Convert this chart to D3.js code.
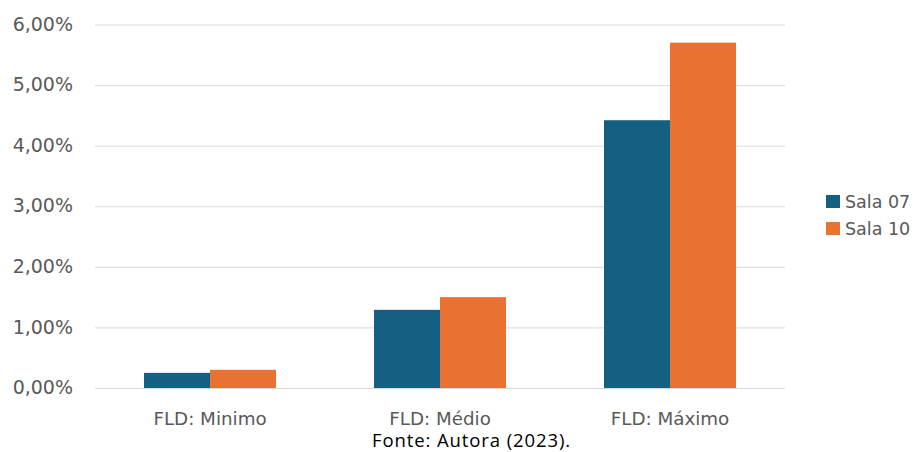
<!DOCTYPE html>
<html><head><meta charset="utf-8">
<script src="https://cdn.jsdelivr.net/npm/d3@7"></script>
<style>body{margin:0;background:#fff}svg{display:block}</style>
</head><body>
<script>
const categories = ["FLD: Minimo", "FLD: Médio", "FLD: Máximo"];
const seriesNames = ["Sala 07", "Sala 10"];
const sala07 = [0.0025, 0.0129, 0.0442];
const sala10 = [0.0030, 0.0150, 0.0570];
const yTicks = [0, 0.01, 0.02, 0.03, 0.04, 0.05, 0.06];
const colors = ["#156082", "#E97132"];
const caption = "Fonte: Autora (2023).";

const W = 914, H = 452;
const FONT = "'DejaVu Sans', sans-serif";
const svg = d3.select("body").append("svg").attr("width", W).attr("height", H);
const x0 = d3.scaleBand().domain(categories).range([95, 785]).paddingInner(0.426).paddingOuter(0.213);
const x1 = d3.scaleBand().domain(seriesNames).range([0, x0.bandwidth()]);
const y = d3.scaleLinear().domain([0, 0.06]).range([388, 24.5]);
const fmt = v => d3.format(".2f")(v * 100).replace(".", ",") + "%";

const yAxis = svg.append("g").attr("transform", "translate(95,0)")
  .call(d3.axisLeft(y).tickValues(yTicks).tickSize(-690).tickFormat(fmt).tickPadding(22));
yAxis.select(".domain").remove();
yAxis.selectAll("line").attr("stroke", "#d9d9d9").attr("stroke-width", 1);
yAxis.selectAll("text").attr("fill", "#595959").attr("dy", "0.3em")
  .style("font-family", FONT).style("font-size", "19px");

const data = categories.map((c, i) => ({cat: c, vals: [sala07[i], sala10[i]]}));
const g = svg.append("g");
data.forEach(d => {
  d.vals.forEach((v, j) => {
    g.append("rect")
      .attr("x", x0(d.cat) + x1(seriesNames[j]))
      .attr("y", y(v))
      .attr("width", x1.bandwidth())
      .attr("height", y(0) - y(v))
      .attr("fill", colors[j]);
  });
});

const xAxis = svg.append("g").attr("transform", "translate(0,388)")
  .call(d3.axisBottom(x0).tickSize(0).tickPadding(0));
xAxis.select(".domain").remove();
xAxis.selectAll("text").attr("fill", "#595959").attr("y", 36.5).attr("dy", null)
  .style("font-family", FONT).style("font-size", "18.3px");

const leg = svg.append("g");
seriesNames.forEach((s, j) => {
  const ly = 195 + j * 27;
  leg.append("rect").attr("x", 826).attr("y", ly).attr("width", 14).attr("height", 13).attr("fill", colors[j]);
  leg.append("text").attr("x", 845).attr("y", ly + 13)
    .attr("fill", "#595959").style("font-family", FONT).style("font-size", "17.5px").text(s);
});

svg.append("text").attr("x", 471.5).attr("y", 446.5).attr("text-anchor", "middle")
  .attr("fill", "#000").style("font-family", "'Open Sans', sans-serif").style("font-size", "18.5px")
  .style("letter-spacing", "0.9px").text(caption);
</script>
</body></html>
